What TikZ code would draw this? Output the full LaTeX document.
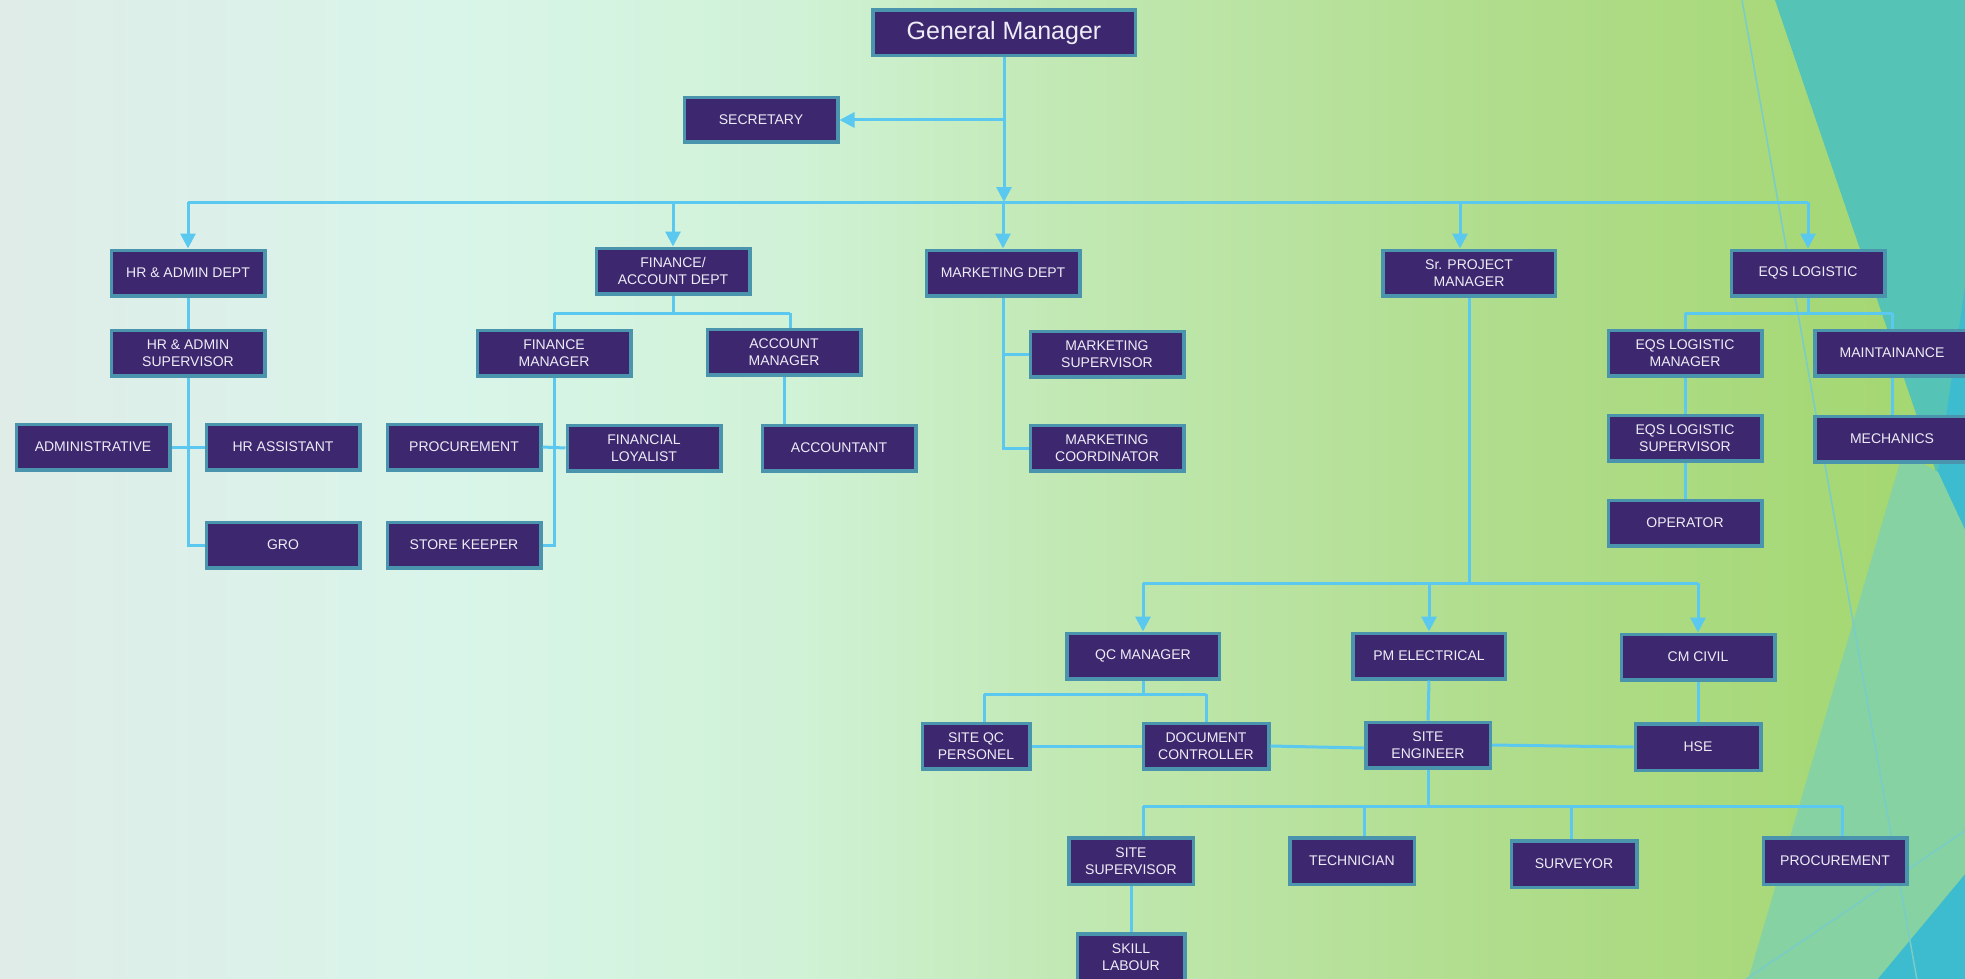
\documentclass[tikz,border=0pt]{standalone}
\usepackage{fontspec}
\setmainfont{Liberation Sans}
\usetikzlibrary{arrows.meta}
\definecolor{boxfill}{RGB}{61,40,112}
\definecolor{boxline}{RGB}{74,148,174}
\definecolor{conn}{RGB}{91,200,240}
\definecolor{boxtext}{RGB}{238,236,246}
\definecolor{bga}{RGB}{223,236,232}
\definecolor{bgb}{RGB}{217,245,234}
\definecolor{bgc}{RGB}{208,242,214}
\definecolor{bgd}{RGB}{194,233,181}
\definecolor{bge}{RGB}{176,221,140}
\definecolor{bgf}{RGB}{163,214,110}
\definecolor{tealbg}{RGB}{85,195,181}
\definecolor{bluebg}{RGB}{61,187,207}
\definecolor{mintbg}{RGB}{134,210,162}
\definecolor{thinln}{RGB}{120,205,200}
\begin{document}
\begin{tikzpicture}[x=1pt,y=-1pt,
  box/.style={draw=boxline, line width=3.5pt, fill=boxfill, text=boxtext,
    font=\fontsize{14}{16.5}\selectfont, align=center,
    minimum width=153.5pt, minimum height=45.5pt, inner sep=1pt},
  con/.style={draw=conn, line width=3pt},
  arr/.style={con, -{Triangle[length=15pt,width=15pt]}}]
\useasboundingbox (0,0) rectangle (1965,979);
\clip (0,0) rectangle (1965,979);
% background
\shade[left color=bga, right color=bgb] (0,0) rectangle (450,979);
\shade[left color=bgb, right color=bgc] (449,0) rectangle (800,979);
\shade[left color=bgc, right color=bgd] (799,0) rectangle (1050,979);
\shade[left color=bgd, right color=bge] (1049,0) rectangle (1500,979);
\shade[left color=bge, right color=bgf] (1499,0) rectangle (1966,979);
\fill[tealbg] (1775,0) -- (1966,0) -- (1966,560) -- cycle;
\fill[bluebg] (1966,280) -- (1938,472) -- (1966,532) -- cycle;
\fill[mintbg] (1903,452) -- (1938,472) -- (1966,532) -- (1966,873) -- (1877,980) -- (1748,980) -- cycle;
\fill[bluebg] (1966,873) -- (1966,980) -- (1877,980) -- cycle;
\draw[thinln, line width=1.5pt] (1742,0) -- (1917,980);
\draw[thinln, line width=1.5pt] (1745,980) -- (1966,830);

% nodes
\node[box, minimum width=262.5pt, font=\fontsize{25}{28}\selectfont] (gm) at (1004,33) {General Manager};
\node[box, minimum height=44.5pt] (sec) at (761,120) {SECRETARY};
\node[box] (hr) at (188,273) {HR \& ADMIN DEPT};
\node[box] (fin) at (673,271) {FINANCE/\\ACCOUNT DEPT};
\node[box] (mkt) at (1003,273) {MARKETING DEPT};
\node[box, minimum width=172.5pt] (srpm) at (1469,273) {Sr. PROJECT\\MANAGER};
\node[box] (eqs) at (1808,273) {EQS LOGISTIC};

\node[box] (hrs) at (188,353) {HR \& ADMIN\\SUPERVISOR};
\node[box] (fm) at (554,353) {FINANCE\\MANAGER};
\node[box] (am) at (784,352) {ACCOUNT\\MANAGER};
\node[box] (ms) at (1107,354) {MARKETING\\SUPERVISOR};
\node[box] (mc) at (1107,448) {MARKETING\\COORDINATOR};

\node[box] (adm) at (93,447) {ADMINISTRATIVE};
\node[box] (hra) at (283,447) {HR ASSISTANT};
\node[box] (procl) at (464,447) {PROCUREMENT};
\node[box] (fl) at (644,448) {FINANCIAL\\LOYALIST};
\node[box] (acc) at (839,448) {ACCOUNTANT};
\node[box] (gro) at (283,545) {GRO};
\node[box] (stk) at (464,545) {STORE KEEPER};

\node[box] (elm) at (1685,353) {EQS LOGISTIC\\MANAGER};
\node[box] (els) at (1685,438) {EQS LOGISTIC\\SUPERVISOR};
\node[box] (op) at (1685,523) {OPERATOR};
\node[box, minimum width=154.5pt] (mnt) at (1892,353) {MAINTAINANCE};
\node[box, minimum width=154.5pt] (mech) at (1892,439) {MECHANICS};

\node[box, minimum width=152.5pt] (qc) at (1143,656) {QC MANAGER};
\node[box, minimum width=152.5pt] (pme) at (1429,656) {PM ELECTRICAL};
\node[box, minimum width=153.5pt] (cm) at (1698,657) {CM CIVIL};

\node[box, minimum width=107.5pt] (sqc) at (976,746) {SITE QC\\PERSONEL};
\node[box, minimum width=125.5pt] (doc) at (1206,746) {DOCUMENT\\CONTROLLER};
\node[box, minimum width=124.5pt] (se) at (1428,745) {SITE\\ENGINEER};
\node[box, minimum width=125.5pt, minimum height=46.5pt] (hse) at (1698,747) {HSE};

\node[box, minimum width=124.5pt, minimum height=46.5pt] (ss) at (1131,861) {SITE\\SUPERVISOR};
\node[box, minimum width=124.5pt, minimum height=46.5pt] (tech) at (1352,861) {TECHNICIAN};
\node[box, minimum width=125.5pt, minimum height=46.5pt] (surv) at (1574,864) {SURVEYOR};
\node[box, minimum width=143.5pt, minimum height=46.5pt] (procr) at (1835,861) {PROCUREMENT};
\node[box, minimum width=107.5pt, minimum height=46.5pt] (skl) at (1131,957) {SKILL\\LABOUR};

% coordinates for bars
\coordinate (bar) at (1004,202);
\coordinate (fbar) at (0,313);
\coordinate (ebar) at (0,313);
\coordinate (pbar) at (0,583);
\coordinate (qbar) at (0,694);
\coordinate (sbar) at (0,806);

% top level
\draw[arr] (gm.south) -- (gm.south |- bar);
\draw[arr] (gm.south |- sec.east) -- (sec.east);
\draw[con] (hr.north |- bar) -- (eqs.north |- bar);
\draw[arr] (hr.north |- bar) -- (hr.north);
\draw[arr] (fin.north |- bar) -- (fin.north);
\draw[arr] (mkt.north |- bar) -- (mkt.north);
\draw[arr] ([xshift=-9pt]srpm.north |- bar) -- ([xshift=-9pt]srpm.north);
\draw[arr] (eqs.north |- bar) -- (eqs.north);

% HR
\draw[con] (hr.south) -- (hrs.north);
\draw[con] (hrs.south) -- (hrs.south |- gro.west) -- (gro.west);
\draw[con] (adm.east) -- (hra.west);

% Finance
\draw[con] (fin.south) -- (fin.south |- fbar);
\draw[con] (fm.north |- fbar) -- ([xshift=6pt]am.north |- fbar);
\draw[con] (fm.north |- fbar) -- (fm.north);
\draw[con] ([xshift=6pt]am.north |- fbar) -- ([xshift=6pt]am.north);
\draw[con] (fm.south) -- (fm.south |- stk.east) -- (stk.east);
\draw[con] (procl.east) -- (fl.west);
\draw[con] (am.south) -- (am.south |- acc.north);

% Marketing
\draw[con] (mkt.south) -- (mkt.south |- mc.west) -- (mc.west);
\draw[con] (mkt.south |- ms.west) -- (ms.west);

% EQS
\draw[con] (eqs.south) -- (eqs.south |- ebar);
\draw[con] (elm.north |- ebar) -- (mnt.north |- ebar);
\draw[con] (elm.north |- ebar) -- (elm.north);
\draw[con] (mnt.north |- ebar) -- (mnt.north);
\draw[con] (elm.south) -- (els.north);
\draw[con] (els.south) -- (op.north);
\draw[con] (mnt.south) -- (mech.north);

% Project
\draw[con] (srpm.south) -- (srpm.south |- pbar);
\draw[con] (qc.north |- pbar) -- (cm.north |- pbar);
\draw[arr] (qc.north |- pbar) -- (qc.north);
\draw[arr] (pme.north |- pbar) -- (pme.north);
\draw[arr] (cm.north |- pbar) -- (cm.north);

% QC
\draw[con] (qc.south) -- (qc.south |- qbar);
\draw[con] ([xshift=8pt]sqc.north |- qbar) -- (doc.north |- qbar);
\draw[con] ([xshift=8pt]sqc.north |- qbar) -- ([xshift=8pt]sqc.north);
\draw[con] (doc.north |- qbar) -- (doc.north);
\draw[con] (sqc.east) -- (doc.west);
\draw[con] (doc.east) -- ([yshift=-3pt]se.west);
\draw[con] (se.east) -- (hse.west);
\draw[con] (pme.south) -- (se.north);
\draw[con] (cm.south) -- (hse.north);

% Site engineer
\draw[con] (se.south) -- (se.south |- sbar);
\draw[con] ([xshift=12pt]ss.north |- sbar) -- ([xshift=7pt]procr.north |- sbar);
\draw[con] ([xshift=12pt]ss.north |- sbar) -- ([xshift=12pt]ss.north);
\draw[con] ([xshift=12pt]tech.north |- sbar) -- ([xshift=12pt]tech.north);
\draw[con] ([xshift=-3pt]surv.north |- sbar) -- ([xshift=-3pt]surv.north);
\draw[con] ([xshift=7pt]procr.north |- sbar) -- ([xshift=7pt]procr.north);
\draw[con] (ss.south) -- (skl.north);
\end{tikzpicture}
\end{document}
